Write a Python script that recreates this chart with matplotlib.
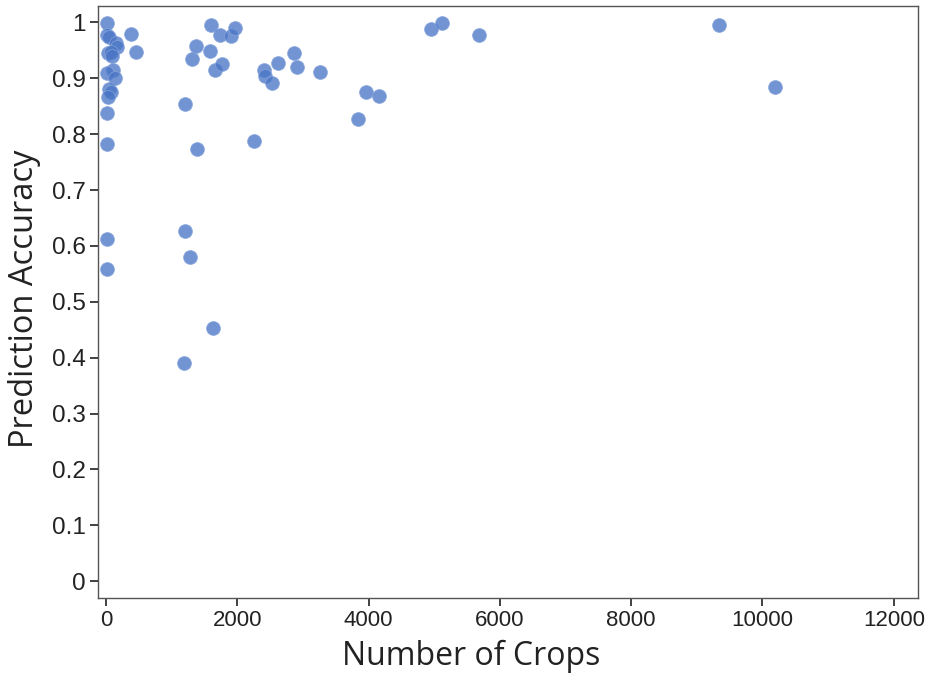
import matplotlib
matplotlib.use("Agg")
import matplotlib.pyplot as plt

# number of crops vs prediction accuracy
crops = [15, 20, 45, 148, 163, 382, 453, 25, 80, 85,
         111, 20, 137, 45, 75, 30, 15, 20, 20, 20,
         1206, 1308, 1374, 1603, 1578, 1740, 1898, 1959, 1654, 1766,
         2412, 2427, 2530, 2621, 2855, 2900, 3252, 3832, 3954, 4153,
         4945, 5112, 5680, 9344, 10198, 2258, 1389, 1196, 1278, 1634, 1191]
accuracy = [0.999, 0.978, 0.974, 0.963, 0.956, 0.979, 0.947, 0.945, 0.947, 0.939,
            0.914, 0.909, 0.900, 0.881, 0.875, 0.866, 0.838, 0.783, 0.613, 0.558,
            0.854, 0.935, 0.958, 0.996, 0.949, 0.978, 0.975, 0.990, 0.915, 0.925,
            0.914, 0.904, 0.892, 0.928, 0.946, 0.921, 0.911, 0.828, 0.875, 0.869,
            0.988, 0.999, 0.977, 0.995, 0.884, 0.787, 0.774, 0.627, 0.581, 0.453, 0.390]

xticks = [0, 2000, 4000, 6000, 8000, 10000, 12000]
yticks = [0, 0.1, 0.2, 0.3, 0.4, 0.5, 0.6, 0.7, 0.8, 0.9, 1.0]
ytick_labels = ["0", "0.1", "0.2", "0.3", "0.4", "0.5", "0.6", "0.7", "0.8", "0.9", "1"]

fig = plt.figure(figsize=(9.26, 6.74), dpi=100)
ax = fig.add_axes([0.1058, 0.1128, 0.8856, 0.878])

ax.scatter(crops, accuracy, s=100, color="#4a76c6", alpha=0.78,
           edgecolors="#8aa6dc", linewidths=0.6, zorder=3)

ax.set_xlim(-125, 12370)
ax.set_ylim(-0.030, 1.029)
ax.set_xticks(xticks)
ax.set_xticklabels([str(t) for t in xticks], family=["Liberation Sans"], fontsize=16, color="#222222")
ax.set_yticks(yticks)
ax.set_yticklabels(ytick_labels, family=["Liberation Sans"], fontsize=17.5, color="#222222")
ax.tick_params(direction="out", length=6, width=1.3, color="#333333", pad=3)

for sp in ax.spines.values():
    sp.set_color("#555555")
    sp.set_linewidth(1.0)

ax.set_xlabel("Number of Crops", family=["Open Sans"], fontsize=23, color="#222222")
ax.set_ylabel("Prediction Accuracy", family=["Open Sans"], fontsize=23.5, color="#222222")
ax.xaxis.set_label_coords(0.455, -0.070)
ax.yaxis.set_label_coords(-0.070, 0.505)

fig.savefig("out.png", dpi=100, facecolor="white")
